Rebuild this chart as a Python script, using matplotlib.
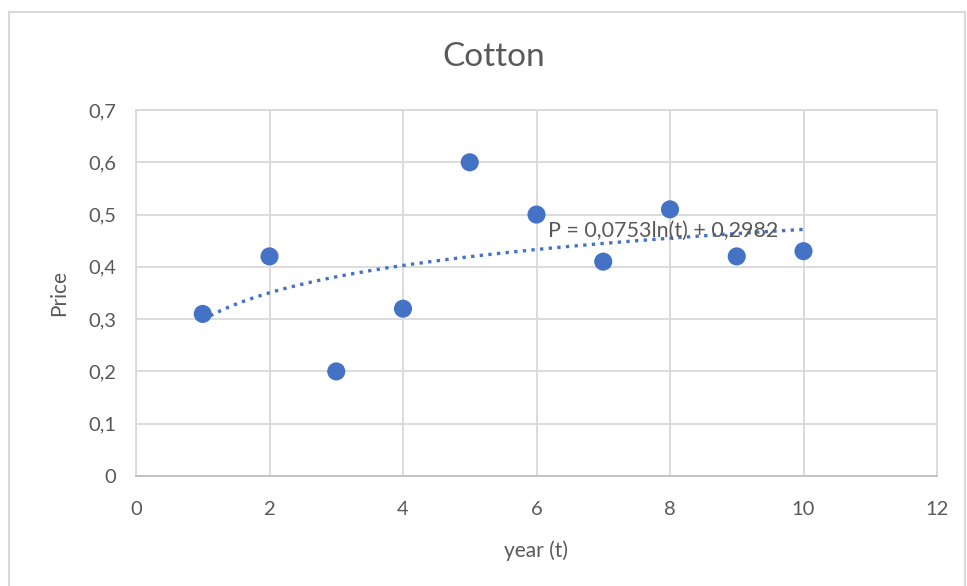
import numpy as np
import matplotlib.pyplot as plt
from matplotlib.patches import Rectangle
from matplotlib.ticker import FuncFormatter

years = [1, 2, 3, 4, 5, 6, 7, 8, 9, 10]
price = [0.31, 0.42, 0.20, 0.32, 0.60, 0.50, 0.41, 0.51, 0.42, 0.43]
x_ticks = [0, 2, 4, 6, 8, 10, 12]
y_ticks = [0, 0.1, 0.2, 0.3, 0.4, 0.5, 0.6, 0.7]
equation = "P = 0,0753ln(t) + 0,2982"

blue = '#4472C4'
grey_text = '#595959'
grid_col = '#D9D9D9'

plt.rcParams['font.family'] = ['Lato', 'DejaVu Sans']

fig = plt.figure(figsize=(9.67, 5.86), dpi=100)
ax = fig.add_axes([136/967, 1 - 476/586, 801/967, 366/586])

# outer chart border
fig.patches.append(Rectangle((9/967, -0.1), 956/967, 1.1 - 12/586, transform=fig.transFigure,
                             fill=False, edgecolor=grid_col, linewidth=1.5))

ax.scatter(years, price, s=170, color=blue, zorder=3, edgecolors='none')

# logarithmic trendline fitted to the data
a, b = np.polyfit(np.log(years), price, 1)
tt = np.linspace(years[0], years[-1], 200)
ax.plot(tt, a * np.log(tt) + b, color=blue, linestyle=(0, (1, 1.6)), linewidth=2.4, zorder=2)

ax.text(6.17, 0.4686, equation, fontsize=15.5, color=grey_text, va='center', ha='left', zorder=4)

ax.set_xlim(0, 12)
ax.set_ylim(0, 0.7)
ax.set_xticks(x_ticks)
ax.set_yticks(y_ticks)
ax.yaxis.set_major_formatter(FuncFormatter(lambda v, p: ('%g' % round(v, 1)).replace('.', ',')))
ax.tick_params(length=0, labelsize=14.5, colors=grey_text)
ax.tick_params(axis='y', pad=14)
ax.tick_params(axis='x', pad=18)
ax.grid(True, color=grid_col, linewidth=1.3)
ax.set_axisbelow(True)
for s in ['left', 'right', 'top']:
    ax.spines[s].set_color(grid_col)
    ax.spines[s].set_linewidth(1.3)
ax.spines['bottom'].set_color('#BFBFBF')
ax.spines['bottom'].set_linewidth(1.3)

fig.text(494/967, 1 - 57/586, "Cotton", fontsize=24, color=grey_text, ha='center', va='center')
ax.set_xlabel("year (t)", fontsize=15, color=grey_text, labelpad=16)
ax.set_ylabel("Price", fontsize=15, color=grey_text, labelpad=14)

fig.savefig('out.png', dpi=100)
